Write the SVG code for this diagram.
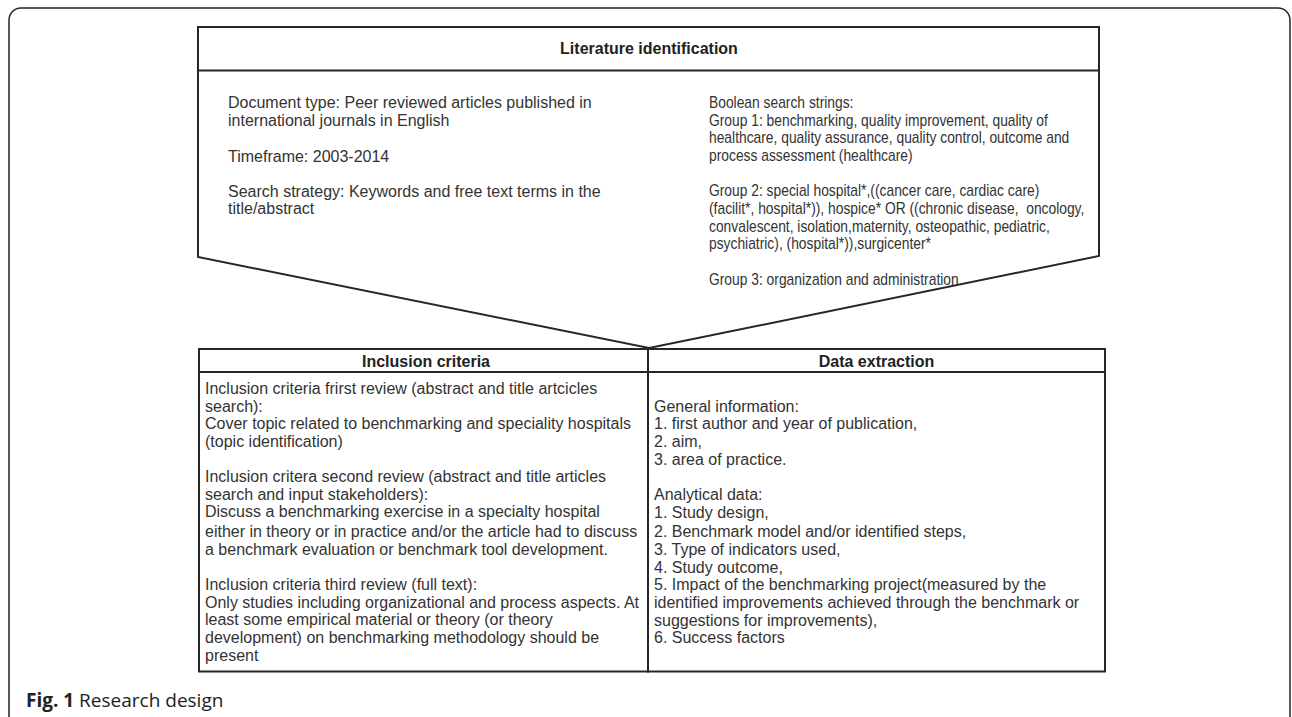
<svg xmlns="http://www.w3.org/2000/svg" width="1292" height="717" viewBox="0 0 1292 717">
<style>
.ln{fill:none;stroke:#262626;stroke-width:2}
.bx{fill:#fff;stroke:#262626;stroke-width:2}
.t{font-family:"Liberation Sans",Arial,sans-serif;font-size:16px;fill:#333}
.h{font-family:"Liberation Sans",Arial,sans-serif;font-size:16px;font-weight:bold;fill:#222;text-anchor:middle}
.cap{font-family:"Open Sans","Noto Sans",sans-serif;font-size:19px;fill:#222}
</style>
<rect width="1292" height="717" fill="#fff"/>
<rect x="9" y="8" width="1281" height="722" rx="12" ry="12" fill="none" stroke="#222" stroke-width="1.5"/>
<g id="literature-identification">
<polygon class="bx" points="198,27 1099,27 1099,256 649,348 198,257"/>
<line class="ln" x1="198" y1="70.5" x2="1099" y2="70.5"/>
<text class="h" x="649" y="54">Literature identification</text>
<text class="t" x="228" y="108">Document type: Peer reviewed articles published in</text>
<text class="t" x="228" y="126">international journals in English</text>
<text class="t" x="228" y="161.5">Timeframe: 2003-2014</text>
<text class="t" x="228" y="196.5">Search strategy: Keywords and free text terms in the</text>
<text class="t" x="228" y="214">title/abstract</text>
<g transform="translate(709,0) scale(0.865,1)">
<text class="t" x="0" y="108">Boolean search strings:</text>
<text class="t" x="0" y="126">Group 1: benchmarking, quality improvement, quality of</text>
<text class="t" x="0" y="143.5">healthcare, quality assurance, quality control, outcome and</text>
<text class="t" x="0" y="161.5">process assessment (healthcare)</text>
<text class="t" x="0" y="196.5">Group 2: special hospital*,((cancer care, cardiac care)</text>
<text class="t" x="0" y="214" xml:space="preserve">(facilit*, hospital*)), hospice* OR ((chronic disease,  oncology,</text>
<text class="t" x="0" y="232">convalescent, isolation,maternity, osteopathic, pediatric,</text>
<text class="t" x="0" y="249.5">psychiatric), (hospital*)),surgicenter*</text>
<text class="t" x="0" y="285">Group 3: organization and administration</text>
</g>
</g>
<g id="inclusion-criteria">
<rect class="bx" x="199" y="349" width="449" height="322.5"/>
<line class="ln" x1="199" y1="372" x2="648" y2="372"/>
<text class="h" x="426" y="367">Inclusion criteria</text>
<text class="t" x="205" y="394.3">Inclusion criteria frirst review (abstract and title artcicles</text>
<text class="t" x="205" y="411.8">search):</text>
<text class="t" x="205" y="429.4">Cover topic related to benchmarking and speciality hospitals</text>
<text class="t" x="205" y="447">(topic identification)</text>
<text class="t" x="205" y="482">Inclusion critera second review (abstract and title articles</text>
<text class="t" x="205" y="499.6">search and input stakeholders):</text>
<text class="t" x="205" y="517.3">Discuss a benchmarking exercise in a specialty hospital</text>
<text class="t" x="205" y="537.3">either in theory or in practice and/or the article had to discuss</text>
<text class="t" x="205" y="555">a benchmark evaluation or benchmark tool development.</text>
<text class="t" x="205" y="590">Inclusion criteria third review (full text):</text>
<text class="t" x="205" y="607.7">Only studies including organizational and process aspects. At</text>
<text class="t" x="205" y="625.3">least some empirical material or theory (or theory</text>
<text class="t" x="205" y="643">development) on benchmarking methodology should be</text>
<text class="t" x="205" y="660.7">present</text>
</g>
<g id="data-extraction">
<rect class="bx" x="648" y="349" width="457" height="322.5"/>
<line class="ln" x1="648" y1="372" x2="1105" y2="372"/>
<text class="h" x="876.5" y="367">Data extraction</text>
<text class="t" x="654" y="411.8">General information:</text>
<text class="t" x="654" y="429.4">1. first author and year of publication,</text>
<text class="t" x="654" y="447">2. aim,</text>
<text class="t" x="654" y="465">3. area of practice.</text>
<text class="t" x="654" y="500">Analytical data:</text>
<text class="t" x="654" y="517.8">1. Study design,</text>
<text class="t" x="654" y="536.8">2. Benchmark model and/or identified steps,</text>
<text class="t" x="654" y="555">3. Type of indicators used,</text>
<text class="t" x="654" y="572.7">4. Study outcome,</text>
<text class="t" x="654" y="590">5. Impact of the benchmarking project(measured by the</text>
<text class="t" x="654" y="607.7">identified improvements achieved through the benchmark or</text>
<text class="t" x="654" y="626">suggestions for improvements),</text>
<text class="t" x="654" y="643.3">6. Success factors</text>
</g>
<g id="connectors"></g>
<text class="cap" x="26" y="707"><tspan font-weight="bold">Fig. 1</tspan> Research design</text>
</svg>
